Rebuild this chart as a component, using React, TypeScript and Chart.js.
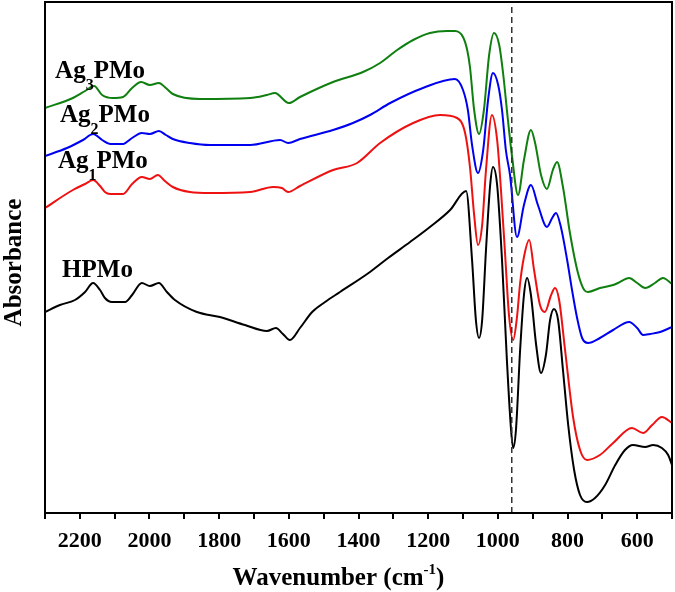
import React, { useEffect, useRef } from "react";
import { Chart, registerables } from "chart.js";

Chart.register(...registerables);

const FONT = '"Liberation Serif", "Times New Roman", Times, serif';

// ---- Data (wavenumber in cm-1, absorbance in arbitrary units, curves offset) ----
const hpmoWavenumber = [2300, 2257, 2214, 2185, 2162, 2142, 2128, 2108, 2070, 2050, 2022, 1999, 1973, 1950, 1927, 1864, 1798, 1726, 1663, 1637, 1617, 1597, 1568, 1533, 1496, 1453, 1367, 1315, 1252, 1195, 1137, 1091, 1074, 1063, 1054, 1045, 1034, 1022, 1014, 1002, 988, 974, 962, 956, 948, 936, 925, 916, 905, 890, 876, 862, 850, 839, 827, 813, 798, 781, 764, 744, 721, 692, 663, 635, 612, 577, 554, 529, 511, 500];
const hpmoAbsorbance = [2.01, 2.08, 2.13, 2.21, 2.30, 2.23, 2.15, 2.11, 2.11, 2.18, 2.30, 2.27, 2.30, 2.21, 2.13, 2.01, 1.96, 1.88, 1.82, 1.85, 1.79, 1.73, 1.85, 2.01, 2.11, 2.21, 2.41, 2.55, 2.71, 2.86, 3.03, 3.22, 2.53, 1.93, 1.75, 1.93, 2.63, 3.28, 3.46, 3.28, 2.53, 1.53, 0.83, 0.65, 0.83, 1.63, 2.18, 2.35, 2.18, 1.68, 1.40, 1.58, 1.93, 2.04, 1.93, 1.43, 0.88, 0.43, 0.18, 0.11, 0.15, 0.28, 0.48, 0.63, 0.68, 0.66, 0.68, 0.65, 0.58, 0.48];

const ag1Wavenumber = [2300, 2220, 2185, 2162, 2142, 2128, 2113, 2076, 2050, 2022, 1999, 1976, 1956, 1933, 1884, 1826, 1711, 1645, 1620, 1602, 1568, 1473, 1404, 1338, 1243, 1166, 1117, 1094, 1080, 1068, 1057, 1045, 1034, 1017, 1002, 991, 979, 968, 956, 945, 936, 925, 910, 896, 879, 865, 847, 836, 824, 807, 784, 764, 744, 707, 669, 615, 583, 557, 529, 500];
const ag1Absorbance = [3.05, 3.23, 3.29, 3.33, 3.27, 3.21, 3.19, 3.19, 3.29, 3.36, 3.34, 3.38, 3.32, 3.26, 3.21, 3.20, 3.21, 3.26, 3.25, 3.21, 3.27, 3.43, 3.50, 3.70, 3.90, 3.98, 3.95, 3.80, 3.46, 2.98, 2.68, 2.88, 3.43, 3.98, 3.73, 3.23, 2.58, 1.98, 1.73, 1.96, 2.30, 2.56, 2.73, 2.43, 2.08, 2.01, 2.18, 2.25, 2.13, 1.63, 0.96, 0.63, 0.53, 0.58, 0.70, 0.85, 0.80, 0.88, 0.96, 0.90];

const ag2Wavenumber = [2300, 2237, 2191, 2162, 2136, 2113, 2076, 2050, 2022, 1999, 1973, 1953, 1933, 1884, 1826, 1711, 1625, 1602, 1568, 1473, 1416, 1367, 1309, 1215, 1123, 1100, 1086, 1074, 1057, 1042, 1028, 1014, 999, 988, 977, 965, 945, 925, 905, 885, 859, 844, 833, 819, 801, 787, 773, 758, 741, 707, 669, 623, 600, 583, 563, 534, 500];
const ag2Absorbance = [3.57, 3.65, 3.73, 3.79, 3.73, 3.69, 3.69, 3.75, 3.80, 3.79, 3.82, 3.78, 3.74, 3.70, 3.68, 3.68, 3.73, 3.70, 3.74, 3.83, 3.90, 3.98, 4.10, 4.25, 4.34, 4.23, 4.03, 3.68, 3.40, 3.63, 4.13, 4.40, 4.28, 4.03, 3.63, 3.38, 2.76, 3.08, 3.28, 3.08, 2.86, 2.95, 3.00, 2.86, 2.53, 2.23, 1.96, 1.75, 1.70, 1.75, 1.83, 1.91, 1.85, 1.78, 1.79, 1.81, 1.86];

const ag3Wavenumber = [2300, 2220, 2185, 2159, 2136, 2105, 2076, 2050, 2024, 1999, 1973, 1953, 1933, 1855, 1711, 1663, 1640, 1600, 1568, 1473, 1387, 1338, 1289, 1243, 1195, 1146, 1123, 1100, 1088, 1080, 1068, 1054, 1040, 1025, 1011, 996, 985, 971, 959, 942, 925, 905, 893, 876, 859, 842, 830, 813, 793, 770, 752, 741, 707, 669, 655, 623, 600, 577, 549, 526, 500];
const ag3Absorbance = [4.05, 4.15, 4.22, 4.27, 4.18, 4.15, 4.16, 4.25, 4.31, 4.28, 4.30, 4.25, 4.19, 4.14, 4.15, 4.18, 4.20, 4.10, 4.16, 4.31, 4.41, 4.50, 4.63, 4.73, 4.80, 4.82, 4.82, 4.76, 4.63, 4.46, 4.03, 3.79, 4.03, 4.58, 4.80, 4.68, 4.40, 3.93, 3.56, 3.18, 3.53, 3.83, 3.70, 3.38, 3.24, 3.43, 3.51, 3.26, 2.80, 2.40, 2.23, 2.21, 2.25, 2.28, 2.30, 2.35, 2.30, 2.25, 2.30, 2.35, 2.29];

const referenceWavenumber = 960;
const xMin = 500;
const xMax = 2300;
const yMin = 0;
const yMax = 5.11;

// Series labels: main text, subscript, rest, anchor (wavenumber, absorbance)
const labelMain = ["Ag", "Ag", "Ag", "HPMo"];
const labelSub = ["3", "2", "1", ""];
const labelRest = ["PMo", "PMo", "PMo", ""];
const labelWavenumber = [2271, 2257, 2263, 2251];
const labelAbsorbance = [4.35, 3.91, 3.45, 2.36];

const zip = (xs: number[], ys: number[]) => {
  const n = Math.min(xs.length, ys.length);
  const out: { x: number; y: number }[] = [];
  for (let i = 0; i < n; i++) out.push({ x: xs[i], y: ys[i] });
  return out;
};

const decorPlugin = {
  id: "decor",
  afterDatasetsDraw(chart: any) {
    const { ctx, scales } = chart;
    const xs = scales.x;
    const ys = scales.y;
    ctx.save();
    ctx.fillStyle = "#000";
    ctx.textBaseline = "alphabetic";
    ctx.textAlign = "left";
    for (let i = 0; i < labelMain.length; i++) {
      let px = xs.getPixelForValue(labelWavenumber[i]);
      const py = ys.getPixelForValue(labelAbsorbance[i]);
      ctx.font = `bold 25px ${FONT}`;
      ctx.fillText(labelMain[i], px, py);
      px += ctx.measureText(labelMain[i]).width;
      if (labelSub[i]) {
        ctx.font = `bold 16px ${FONT}`;
        ctx.fillText(labelSub[i], px, py + 12);
        px += ctx.measureText(labelSub[i]).width;
      }
      if (labelRest[i]) {
        ctx.font = `bold 25px ${FONT}`;
        ctx.fillText(labelRest[i], px, py);
      }
    }
    ctx.restore();
  },
  afterDraw(chart: any) {
    const { ctx, chartArea } = chart;
    ctx.save();
    // frame
    ctx.strokeStyle = "#000";
    ctx.lineWidth = 2;
    ctx.strokeRect(chartArea.left, chartArea.top, chartArea.right - chartArea.left, chartArea.bottom - chartArea.top);

    // x title with superscript
    const mainFont = `bold 25px ${FONT}`;
    const supFont = `bold 15px ${FONT}`;
    const t1 = "Wavenumber (cm";
    const t2 = "-1";
    const t3 = ")";
    ctx.font = mainFont;
    const w1 = ctx.measureText(t1).width;
    const w3 = ctx.measureText(t3).width;
    ctx.font = supFont;
    const w2 = ctx.measureText(t2).width;
    const total = w1 + w2 + w3;
    const cx = (chartArea.left + chartArea.right) / 2 - 20;
    let x = cx - total / 2;
    const baseY = chartArea.bottom + 72;
    ctx.fillStyle = "#000";
    ctx.textAlign = "left";
    ctx.textBaseline = "alphabetic";
    ctx.font = mainFont;
    ctx.fillText(t1, x, baseY);
    x += w1;
    ctx.font = supFont;
    ctx.fillText(t2, x, baseY - 11);
    x += w2;
    ctx.font = mainFont;
    ctx.fillText(t3, x, baseY);

    // y title
    ctx.translate(15, (chartArea.top + chartArea.bottom) / 2 + 5);
    ctx.rotate(-Math.PI / 2);
    ctx.textAlign = "center";
    ctx.textBaseline = "middle";
    ctx.font = mainFont;
    ctx.fillText("Absorbance", 0, 0);
    ctx.restore();
  },
};

export default function App() {
  const ref = useRef<HTMLCanvasElement>(null);

  useEffect(() => {
    const canvas = ref.current;
    if (!canvas) return;
    const line = (label: string, xs: number[], ys: number[], color: string) => ({
      label,
      data: zip(xs, ys),
      borderColor: color,
      backgroundColor: color,
      borderWidth: 2,
      pointRadius: 0,
      fill: false,
      cubicInterpolationMode: "monotone" as const,
    });
    const chart = new Chart(canvas, {
      type: "line",
      data: {
        datasets: [
          {
            label: "960",
            data: [
              { x: referenceWavenumber, y: yMin },
              { x: referenceWavenumber, y: yMax },
            ],
            borderColor: "#333",
            borderWidth: 1.5,
            borderDash: [6, 4],
            pointRadius: 0,
            fill: false,
          },
          line("Ag3PMo", ag3Wavenumber, ag3Absorbance, "#0f7f0f"),
          line("Ag2PMo", ag2Wavenumber, ag2Absorbance, "#0000f0"),
          line("Ag1PMo", ag1Wavenumber, ag1Absorbance, "#ee1111"),
          line("HPMo", hpmoWavenumber, hpmoAbsorbance, "#000000"),
        ] as any,
      },
      options: {
        responsive: false,
        animation: false,
        layout: { padding: { top: 2, right: 3, left: 0, bottom: 0 } },
        plugins: { legend: { display: false }, tooltip: { enabled: false } },
        scales: {
          x: {
            type: "linear",
            reverse: true,
            min: xMin,
            max: xMax,
            ticks: {
              stepSize: 100,
              autoSkip: false,
              maxRotation: 0,
              padding: 9,
              color: "#000",
              font: { family: FONT, size: 22, weight: "bold" },
              callback: (v: any) => {
                const n = Math.round(Number(v));
                return n % 200 === 0 && n > xMin && n < xMax ? String(n) : "";
              },
            },
            grid: {
              display: true,
              drawOnChartArea: false,
              drawTicks: true,
              tickLength: 6,
              color: "#000",
              lineWidth: 2,
            },
            border: { display: true, color: "#000", width: 2 },
            afterFit: (s: any) => {
              s.height = 79;
              s.paddingLeft = 0;
              s.paddingRight = 0;
            },
          },
          y: {
            type: "linear",
            min: yMin,
            max: yMax,
            ticks: { display: false },
            grid: { display: false },
            border: { display: false },
            afterFit: (s: any) => {
              s.width = 45;
              s.paddingTop = 0;
              s.paddingBottom = 0;
            },
          },
        },
      } as any,
      plugins: [decorPlugin],
    });
    return () => chart.destroy();
  }, []);

  return (
    <div style={{ position: "fixed", left: 0, top: 0, width: 675, height: 592, background: "#fff" }}>
      <canvas ref={ref} width={675} height={592} style={{ display: "block", width: 675, height: 592 }} />
    </div>
  );
}
